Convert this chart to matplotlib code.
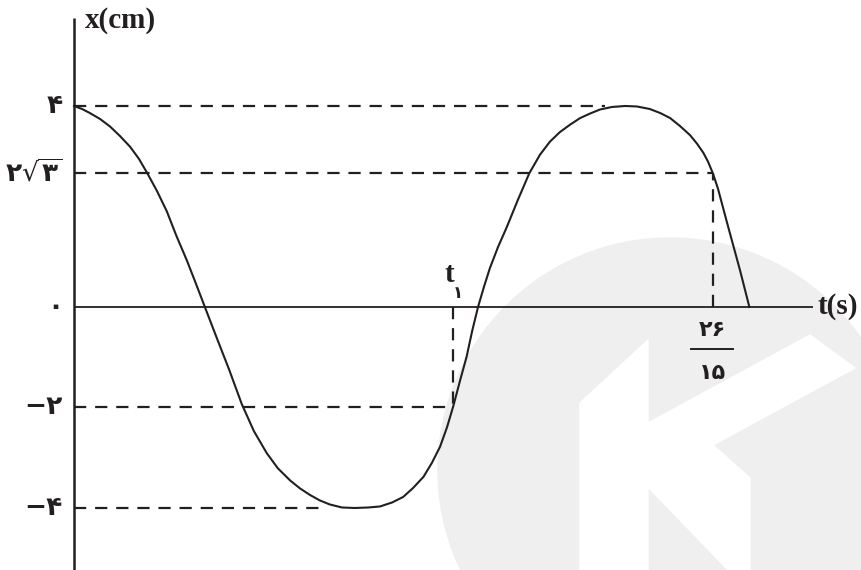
import matplotlib
matplotlib.use('Agg')
import matplotlib.pyplot as plt
import matplotlib.patches as mpatches
import matplotlib.transforms as mtransforms

# curve: t in s, x in cm
t_curve = [0.0, 0.022, 0.043, 0.071, 0.098, 0.125, 0.152, 0.176, 0.199, 0.225,
           0.252, 0.277, 0.306, 0.331, 0.355, 0.387, 0.421, 0.455, 0.488, 0.523,
           0.553, 0.586, 0.613, 0.640, 0.667, 0.694, 0.727, 0.762, 0.798, 0.830,
           0.863, 0.893, 0.920, 0.948, 0.971, 0.993, 1.012, 1.029, 1.047, 1.065,
           1.080, 1.096, 1.112, 1.128, 1.150, 1.174, 1.204, 1.235, 1.264, 1.291,
           1.318, 1.346, 1.373, 1.400, 1.427, 1.459, 1.495, 1.527, 1.562, 1.590,
           1.617, 1.644, 1.671, 1.690, 1.707, 1.720, 1.733, 1.747, 1.771, 1.807,
           1.832]
x_curve = [4.0, 3.94, 3.86, 3.74, 3.59, 3.40, 3.19, 2.95, 2.66, 2.31,
           1.90, 1.43, 0.93, 0.46, 0.0, -0.61, -1.25, -1.93, -2.47, -2.91,
           -3.21, -3.45, -3.61, -3.74, -3.85, -3.93, -3.99, -4.0, -3.99, -3.97,
           -3.89, -3.78, -3.60, -3.38, -3.10, -2.78, -2.39, -1.97, -1.47, -0.99,
           -0.48, 0.0, 0.40, 0.77, 1.19, 1.59, 2.13, 2.66, 3.03, 3.29,
           3.48, 3.63, 3.76, 3.85, 3.93, 3.98, 4.0, 3.99, 3.94, 3.86,
           3.76, 3.60, 3.42, 3.25, 3.07, 2.89, 2.66, 2.35, 1.69, 0.72,
           0.0]

# dashed guide levels and where they stop
h_levels = [4.0, 2.66, -2.0, -4.0]
h_ends = [1.44, 1.733, 1.015, 0.681]
t1 = 1.029
t_frac = 1.733   # 26/15

y_ticks = [4.0, 2.66, 0.0, -2.0, -4.0]
y_labels = ['۴', r'$\mathbf{۲}\sqrt{\mathbf{۳}}$', '۰', '−۲', '−۴']

ink = '#231f20'

fig = plt.figure(figsize=(8.61, 5.70), dpi=100)
ax = fig.add_axes([0, 0, 1, 1])
ax.set_xlim(-0.2007, 2.1348)
ax.set_ylim(-5.234, 6.109)
ax.axis('off')

# faint watermark in the background (figure pixels, origin bottom-left)
pix = mtransforms.IdentityTransform()
H = 570
wm = mpatches.Circle((670, H - 470), 232, color='#efefef', transform=pix,
                     zorder=0.5, clip_on=False)
ax.add_artist(wm)
k_shape = [(580, 563), (580, 403), (648, 340), (648, 423), (810, 335), (855, 368),
           (713, 445), (750, 478), (750, 570), (728, 570), (648, 487), (648, 570), (580, 570)]
k_poly = mpatches.Polygon([(a, H - b) for a, b in k_shape], closed=True,
                          color='white', transform=pix, zorder=0.6, clip_on=False)
ax.add_artist(k_poly)

# axes lines
ax.plot([0, 0], [-5.234, 5.75], color=ink, lw=1.8, solid_capstyle='butt', zorder=3)
ax.plot([0, 2.005], [0, 0], color=ink, lw=1.3, solid_capstyle='butt', zorder=3)

# dashed guides
dash = (0, (5.5, 4.0))
for lvl, end in zip(h_levels, h_ends):
    ax.plot([0, end], [lvl, lvl], color=ink, lw=1.6, linestyle=dash, zorder=2)
ax.plot([t_frac, t_frac], [0, 2.66], color=ink, lw=1.6, linestyle=dash, zorder=2)
ax.plot([t1, t1], [0, -2.0], color=ink, lw=1.6, linestyle=dash, zorder=2)

# the curve
ax.plot(t_curve, x_curve, color=ink, lw=1.5, solid_joinstyle='round', zorder=3)

# y labels
for y, lab in zip(y_ticks, y_labels):
    ax.text(-0.03, y, lab, ha='right', va='center', fontsize=19,
            fontweight='bold', family='DejaVu Sans', color=ink)

# axis titles
ax.text(0.03, 5.71, 'x(cm)', ha='left', va='center', fontsize=21,
        fontweight='bold', family='Liberation Serif', color=ink)
ax.text(2.018, 0.0, 't(s)', ha='left', va='center', fontsize=21,
        fontweight='bold', family='Liberation Serif', color=ink)

# t1 label
ax.text(1.017, 0.64, 't', ha='center', va='center', fontsize=21,
        fontweight='bold', family='Liberation Serif', color=ink)
ax.text(1.041, 0.27, '۱', ha='center', va='center', fontsize=12,
        fontweight='bold', family='DejaVu Sans', color=ink)

# 26/15 fraction
ax.text(t_frac, -0.45, '۲۶', ha='center', va='center', fontsize=16,
        fontweight='bold', family='DejaVu Sans', color=ink)
ax.plot([1.674, 1.788], [-0.836, -0.836], color=ink, lw=1.4)
ax.text(t_frac, -1.31, '۱۵', ha='center', va='center', fontsize=16,
        fontweight='bold', family='DejaVu Sans', color=ink)

fig.savefig('out.png', dpi=100)
